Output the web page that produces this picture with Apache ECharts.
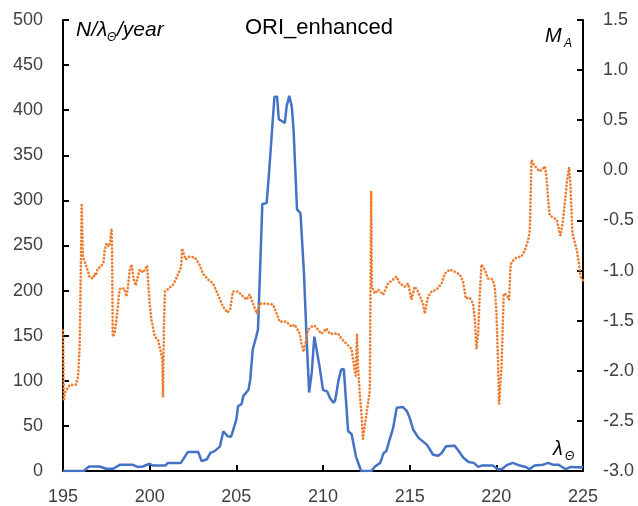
<!DOCTYPE html>
<html>
<head>
<meta charset="utf-8">
<script src="https://cdn.jsdelivr.net/npm/echarts@6/dist/echarts.min.js"></script>
<style>
html,body{margin:0;padding:0;background:#fff;}
#chart{width:638px;height:506px;}
</style>
</head>
<body>
<div id="chart"></div>
<script>
// Solar longitude (deg) for the rate curve
const rateLambda = [195,196.2,196.5,197.1,197.5,197.9,198.3,199.0,199.3,199.6,200.0,200.2,200.9,201.05,201.8,202.2,202.8,203.0,203.3,203.5,203.75,204.05,204.25,204.5,204.7,205.0,205.1,205.3,205.4,205.7,205.8,205.95,206.15,206.25,206.35,206.5,206.75,206.9,207.05,207.2,207.35,207.45,207.8,207.9,208.05,208.2,208.3,208.5,208.7,208.9,209.05,209.2,209.35,209.5,209.6,209.8,210.0,210.25,210.4,210.6,210.7,210.9,211.05,211.2,211.45,211.65,211.9,212.2,212.8,213.0,213.3,213.5,213.65,213.85,214.05,214.25,214.6,214.85,215.0,215.2,215.5,216.0,216.35,216.65,216.85,217.1,217.6,217.8,218.1,218.4,218.7,218.95,219.15,219.8,220.1,220.35,220.6,220.95,221.35,221.7,221.9,222.2,222.7,223.0,223.25,223.6,224.0,224.3,225];
// N / lambda / year
const rateValues = [0,0,5,5,2.5,2.5,7,7,4.5,5,8,6,6,9,9,21,21,11,13,20,22,27,44,38.5,38,57,72,74,83,90,101,135,149,157,212,296,297,334,375,415,415,390,386,404,416,404,379,290,286,220,149,87,109,149,148,116,90,88,81,75.6,78,101,112.5,113,44,41,16,0,0,5,9,20,22,35,48,70,71,66,59,46,37,29,18,17,20,27.5,28,23,14.6,10,9,4.6,6,6,1.7,2.5,6.5,9,6,4.5,2,6,7,9,7,7,2,4.5,4];
// Solar longitude (deg) for the magnitude curve
const magLambda = [195.0,195.05,195.1,195.4,195.73,195.87,195.96,196.02,196.08,196.15,196.25,196.45,196.54,196.73,196.83,196.9,197.0,197.2,197.3,197.35,197.4,197.5,197.65,197.73,197.8,197.83,197.87,197.98,198.08,198.17,198.23,198.3,198.55,198.66,198.75,198.85,198.95,199.0,199.08,199.2,199.27,199.43,199.6,199.77,199.85,199.9,200.0,200.1,200.3,200.48,200.62,200.73,200.77,200.82,200.88,201.1,201.35,201.5,201.63,201.77,201.83,201.87,201.96,202.08,202.3,202.6,202.85,203.07,203.37,203.66,203.94,204.23,204.49,204.65,204.8,204.9,205.1,205.4,205.58,205.77,205.96,206.19,206.35,206.74,207.12,207.35,207.5,207.89,208.18,208.37,208.66,208.76,208.89,209.04,209.14,209.33,209.52,209.71,209.91,210.2,210.39,210.87,211.06,211.35,211.64,211.83,211.89,211.96,212.02,212.12,212.22,212.3,212.7,212.78,212.82,213.0,213.18,213.47,213.75,214.04,214.24,214.43,214.72,214.91,215.1,215.29,215.48,215.77,215.87,216.06,216.26,216.55,216.84,217.03,217.31,217.6,217.89,218.08,218.24,218.47,218.66,218.76,218.85,218.95,219.04,219.14,219.33,219.52,219.78,219.91,220.01,220.1,220.16,220.3,220.39,220.43,220.59,220.74,220.82,220.97,221.16,221.45,221.64,221.83,221.93,221.98,222.03,222.12,222.32,222.51,222.7,222.8,222.89,222.99,223.08,223.37,223.5,223.62,223.7,223.82,223.95,224.08,224.2,224.28,224.39,224.62,224.77,224.86,225.0];
// Magnitude M_A
const magValues = [-1.6,-2.3,-2.22,-2.14,-2.14,-2.06,-1.76,-1.09,-0.33,-0.86,-0.91,-1.01,-1.07,-1.08,-1.03,-1.05,-0.98,-0.96,-0.97,-0.91,-0.80,-0.73,-0.76,-0.70,-0.58,-0.76,-1.66,-1.63,-1.49,-1.36,-1.23,-1.18,-1.18,-1.26,-1.16,-0.99,-0.94,-0.99,-1.09,-1.15,-1.09,-0.99,-1.02,-0.98,-0.95,-1.08,-1.33,-1.49,-1.66,-1.69,-1.79,-1.89,-2.26,-1.56,-1.21,-1.18,-1.14,-1.09,-1.04,-0.99,-0.93,-0.78,-0.83,-0.89,-0.86,-0.87,-0.93,-1.03,-1.09,-1.13,-1.24,-1.36,-1.42,-1.38,-1.21,-1.20,-1.21,-1.26,-1.29,-1.24,-1.33,-1.43,-1.33,-1.33,-1.34,-1.44,-1.51,-1.51,-1.56,-1.54,-1.63,-1.73,-1.81,-1.68,-1.59,-1.56,-1.55,-1.59,-1.63,-1.58,-1.63,-1.63,-1.68,-1.73,-1.78,-2.0,-2.05,-1.63,-1.96,-2.23,-2.43,-2.68,-2.2,-0.21,-1.16,-1.23,-1.19,-1.24,-1.13,-1.09,-1.06,-1.13,-1.16,-1.13,-1.29,-1.16,-1.21,-1.33,-1.43,-1.26,-1.21,-1.19,-1.13,-1.03,-0.99,-1.01,-1.04,-1.11,-1.28,-1.27,-1.33,-1.49,-1.78,-1.63,-1.26,-0.94,-0.99,-1.08,-1.09,-1.16,-1.43,-1.93,-2.33,-1.96,-1.43,-1.23,-1.24,-1.29,-0.94,-0.90,-0.87,-0.86,-0.80,-0.70,-0.60,-0.26,0.10,0.07,0.02,-0.01,0.02,0.04,-0.06,-0.30,-0.45,-0.48,-0.50,-0.60,-0.65,-0.53,-0.33,-0.10,0.03,-0.16,-0.63,-0.78,-0.93,-1.06,-1.1];

const xTicks = [195, 200, 205, 210, 215, 220, 225];
const leftTicks = [0, 50, 100, 150, 200, 250, 300, 350, 400, 450, 500];
const rightTicks = [-3.0, -2.5, -2.0, -1.5, -1.0, -0.5, 0.0, 0.5, 1.0, 1.5];

const chart = echarts.init(document.getElementById('chart'), null, {renderer: 'canvas'});
const FONT = 'Liberation Sans';
const axisCommon = {
  axisLine: {show: true, onZero: false, lineStyle: {color: '#000', width: 2}},
  axisTick: {show: true, inside: true, length: 6, lineStyle: {color: '#000', width: 2}},
  splitLine: {show: false},
  axisLabel: {color: '#404040', fontSize: 18, fontFamily: FONT, margin: 20}
};
chart.setOption({
  animation: false,
  backgroundColor: '#fff',
  title: {
    text: 'ORI_enhanced', left: 'center', top: 12,
    textStyle: {fontFamily: FONT, fontSize: 22, fontWeight: 'normal', color: '#000'}
  },
  grid: {left: 63, right: 55, top: 20, bottom: 35},
  xAxis: Object.assign({}, axisCommon, {
    type: 'value', min: xTicks[0], max: xTicks[xTicks.length - 1], interval: 5,
    axisLabel: Object.assign({}, axisCommon.axisLabel, {margin: 17})
  }),
  yAxis: [
    Object.assign({}, axisCommon, {
      type: 'value', position: 'left', min: leftTicks[0], max: leftTicks[leftTicks.length - 1], interval: 50
    }),
    Object.assign({}, axisCommon, {
      type: 'value', position: 'right', min: rightTicks[0], max: rightTicks[rightTicks.length - 1], interval: 0.5,
      axisLabel: Object.assign({}, axisCommon.axisLabel, {formatter: v => v.toFixed(1)})
    })
  ],
  series: [
    {
      type: 'line', yAxisIndex: 0, showSymbol: false, symbol: 'none',
      data: rateLambda.map((x, i) => [x, rateValues[i]]),
      lineStyle: {color: '#4472C4', width: 2.5}, z: 2
    },
    {
      type: 'line', yAxisIndex: 1, showSymbol: false, symbol: 'none',
      data: magLambda.map((x, i) => [x, magValues[i]]),
      lineStyle: {color: '#ED7D31', width: 2.7, type: [0.1, 3.5], cap: 'round'}, z: 3
    }
  ],
  graphic: [
    {type: 'text', left: 76, top: 20, style: {text: 'N/λ', font: 'italic 21px "Liberation Sans"', fill: '#000'}},
    {type: 'text', left: 107, top: 32, style: {text: 'Θ', font: 'italic 12px "Liberation Sans"', fill: '#000'}},
    {type: 'text', left: 117, top: 20, style: {text: '/year', font: 'italic 21px "Liberation Sans"', fill: '#000'}},
    {type: 'text', left: 545, top: 26, style: {text: 'M', font: 'italic 20px "Liberation Sans"', fill: '#000'}},
    {type: 'text', left: 564, top: 38, style: {text: 'A', font: 'italic 12px "Liberation Sans"', fill: '#000'}},
    {type: 'text', left: 553, top: 439, style: {text: 'λ', font: 'italic 20px "Liberation Sans"', fill: '#000'}},
    {type: 'text', left: 565, top: 451, style: {text: 'Θ', font: 'italic 12px "Liberation Sans"', fill: '#000'}}
  ]
});
</script>
</body>
</html>
